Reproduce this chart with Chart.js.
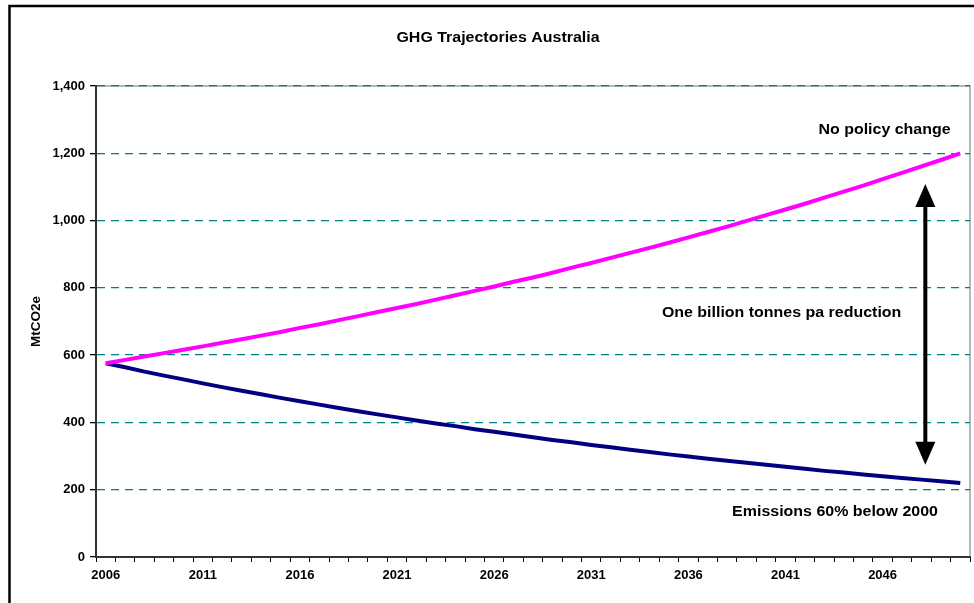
<!DOCTYPE html>
<html>
<head>
<meta charset="utf-8">
<script src="https://cdn.jsdelivr.net/npm/chart.js@4.4.1/dist/chart.umd.min.js"></script>
<style>
  html, body { margin: 0; padding: 0; background: #fff; }
  canvas { display: block; }
</style>
</head>
<body>
<canvas id="chart1" width="974" height="603"></canvas>
<script>
var years = ['2006','2007','2008','2009','2010','2011','2012','2013','2014','2015',
             '2016','2017','2018','2019','2020','2021','2022','2023','2024','2025',
             '2026','2027','2028','2029','2030','2031','2032','2033','2034','2035',
             '2036','2037','2038','2039','2040','2041','2042','2043','2044','2045',
             '2046','2047','2048','2049','2050'];

// MtCO2e
var noPolicyChange = [576, 586, 596, 606, 616, 626, 637, 647, 658, 669,
                      681, 692, 704, 716, 728, 740, 752, 765, 778, 791,
                      804, 818, 831, 845, 860, 874, 889, 904, 919, 934,
                      950, 966, 982, 999, 1016, 1033, 1050, 1068, 1086, 1104,
                      1123, 1142, 1161, 1180, 1200];

var emissions60 = [576, 564, 551, 539, 528, 516, 505, 494, 484, 473,
                   463, 453, 443, 433, 424, 415, 406, 397, 389, 380,
                   372, 364, 356, 348, 341, 333, 326, 319, 312, 305,
                   299, 292, 286, 280, 274, 268, 262, 256, 251, 245,
                   240, 235, 230, 225, 220];

var yTicks = [0, 200, 400, 600, 800, 1000, 1200, 1400];

var FONT = '"Liberation Sans", Arial, sans-serif';

// text is a bit wide in the original, so stretch it a little
function stretchedText(ctx, text, x, y, size) {
    ctx.save();
    ctx.font = 'bold ' + size + 'px ' + FONT;
    ctx.fillStyle = '#000';
    ctx.textAlign = 'center';
    ctx.textBaseline = 'middle';
    ctx.translate(x, y);
    ctx.scale(1.14, 1);
    ctx.fillText(text, 0, 0);
    ctx.restore();
}

var decorations = {
    id: 'decorations',
    beforeDraw: function (chart) {
        var ctx = chart.ctx, a = chart.chartArea;
        ctx.save();
        ctx.fillStyle = '#fff';
        ctx.fillRect(0, 0, chart.width, chart.height);
        // outer frame
        ctx.strokeStyle = '#000';
        ctx.lineWidth = 2.5;
        ctx.strokeRect(9.5, 6, 1100, 1100);
        // plot area top / right edge
        ctx.strokeStyle = '#a0a0a0';
        ctx.lineWidth = 1.5;
        ctx.beginPath();
        ctx.moveTo(a.left, a.top);
        ctx.lineTo(a.right, a.top);
        ctx.lineTo(a.right, a.bottom);
        ctx.stroke();
        ctx.restore();
    },
    afterDatasetsDraw: function (chart) {
        var ctx = chart.ctx;
        var x = chart.scales.x, y = chart.scales.y;

        stretchedText(ctx, 'GHG Trajectories Australia', 498, 38, 14);
        stretchedText(ctx, 'No policy change', x.getPixelForValue(40.1), y.getPixelForValue(1269), 14);
        stretchedText(ctx, 'One billion tonnes pa reduction', x.getPixelForValue(34.8), y.getPixelForValue(726), 14);
        stretchedText(ctx, 'Emissions 60% below 2000', x.getPixelForValue(37.55), y.getPixelForValue(132), 14);

        // double arrow
        var ax = x.getPixelForValue(42.2);
        var top = y.getPixelForValue(1109);
        var bot = y.getPixelForValue(274);
        var hw = 10, hh = 23;
        ctx.save();
        ctx.fillStyle = '#000';
        ctx.strokeStyle = '#000';
        ctx.lineWidth = 4;
        ctx.beginPath();
        ctx.moveTo(ax, top + hh - 2);
        ctx.lineTo(ax, bot - hh + 2);
        ctx.stroke();
        ctx.beginPath();
        ctx.moveTo(ax, top);
        ctx.lineTo(ax + hw, top + hh);
        ctx.lineTo(ax - hw, top + hh);
        ctx.closePath();
        ctx.fill();
        ctx.beginPath();
        ctx.moveTo(ax, bot);
        ctx.lineTo(ax + hw, bot - hh);
        ctx.lineTo(ax - hw, bot - hh);
        ctx.closePath();
        ctx.fill();
        ctx.restore();
    }
};

var ctx = document.getElementById('chart1').getContext('2d');
var chart = new Chart(ctx, {
    type: 'line',
    data: {
        labels: years,
        datasets: [{
            label: 'No policy change',
            data: noPolicyChange,
            borderColor: '#ff00ff',
            borderWidth: 4,
            pointRadius: 0,
            tension: 0
        }, {
            label: 'Emissions 60% below 2000',
            data: emissions60,
            borderColor: '#000080',
            borderWidth: 4,
            pointRadius: 0,
            tension: 0
        }]
    },
    options: {
        responsive: false,
        animation: false,
        layout: { padding: { left: 0, right: 4, top: 86, bottom: 0 } },
        plugins: {
            legend: { display: false },
            tooltip: { enabled: false },
            title: { display: false }
        },
        scales: {
            x: {
                offset: true,
                grid: {
                    offset: true,
                    drawOnChartArea: false,
                    drawTicks: true,
                    tickLength: 5,
                    tickColor: '#000',
                    tickWidth: 1
                },
                border: { display: true, color: '#333', width: 2 },
                ticks: {
                    autoSkip: false,
                    maxRotation: 0,
                    padding: 6,
                    color: '#000',
                    font: { family: FONT, size: 13, weight: 'bold' },
                    callback: function (value, index) {
                        return index % 5 === 0 ? this.getLabelForValue(value) : '';
                    }
                },
                afterFit: function (scale) { scale.height = 46; }
            },
            y: {
                min: yTicks[0],
                max: yTicks[yTicks.length - 1],
                afterBuildTicks: function (scale) {
                    scale.ticks = yTicks.map(function (v) { return { value: v }; });
                },
                grid: {
                    color: function (c) { return c.tick && c.tick.value === 0 ? 'rgba(0,0,0,0)' : '#008080'; },
                    lineWidth: 1.3,
                    tickLength: 6,
                    tickColor: '#000',
                    tickBorderDash: []
                },
                border: { display: true, color: '#333', width: 2, dash: [8, 6] },
                ticks: {
                    padding: 5,
                    color: '#000',
                    font: { family: FONT, size: 13, weight: 'bold' },
                    callback: function (value) { return value.toLocaleString('en-US'); }
                },
                title: {
                    display: true,
                    text: 'MtCO2e',
                    color: '#000',
                    font: { family: FONT, size: 13.5, weight: 'bold' },
                    padding: { top: 28, bottom: 0 }
                },
                afterFit: function (scale) { scale.width = 96; }
            }
        }
    },
    plugins: [decorations]
});
</script>
</body>
</html>
